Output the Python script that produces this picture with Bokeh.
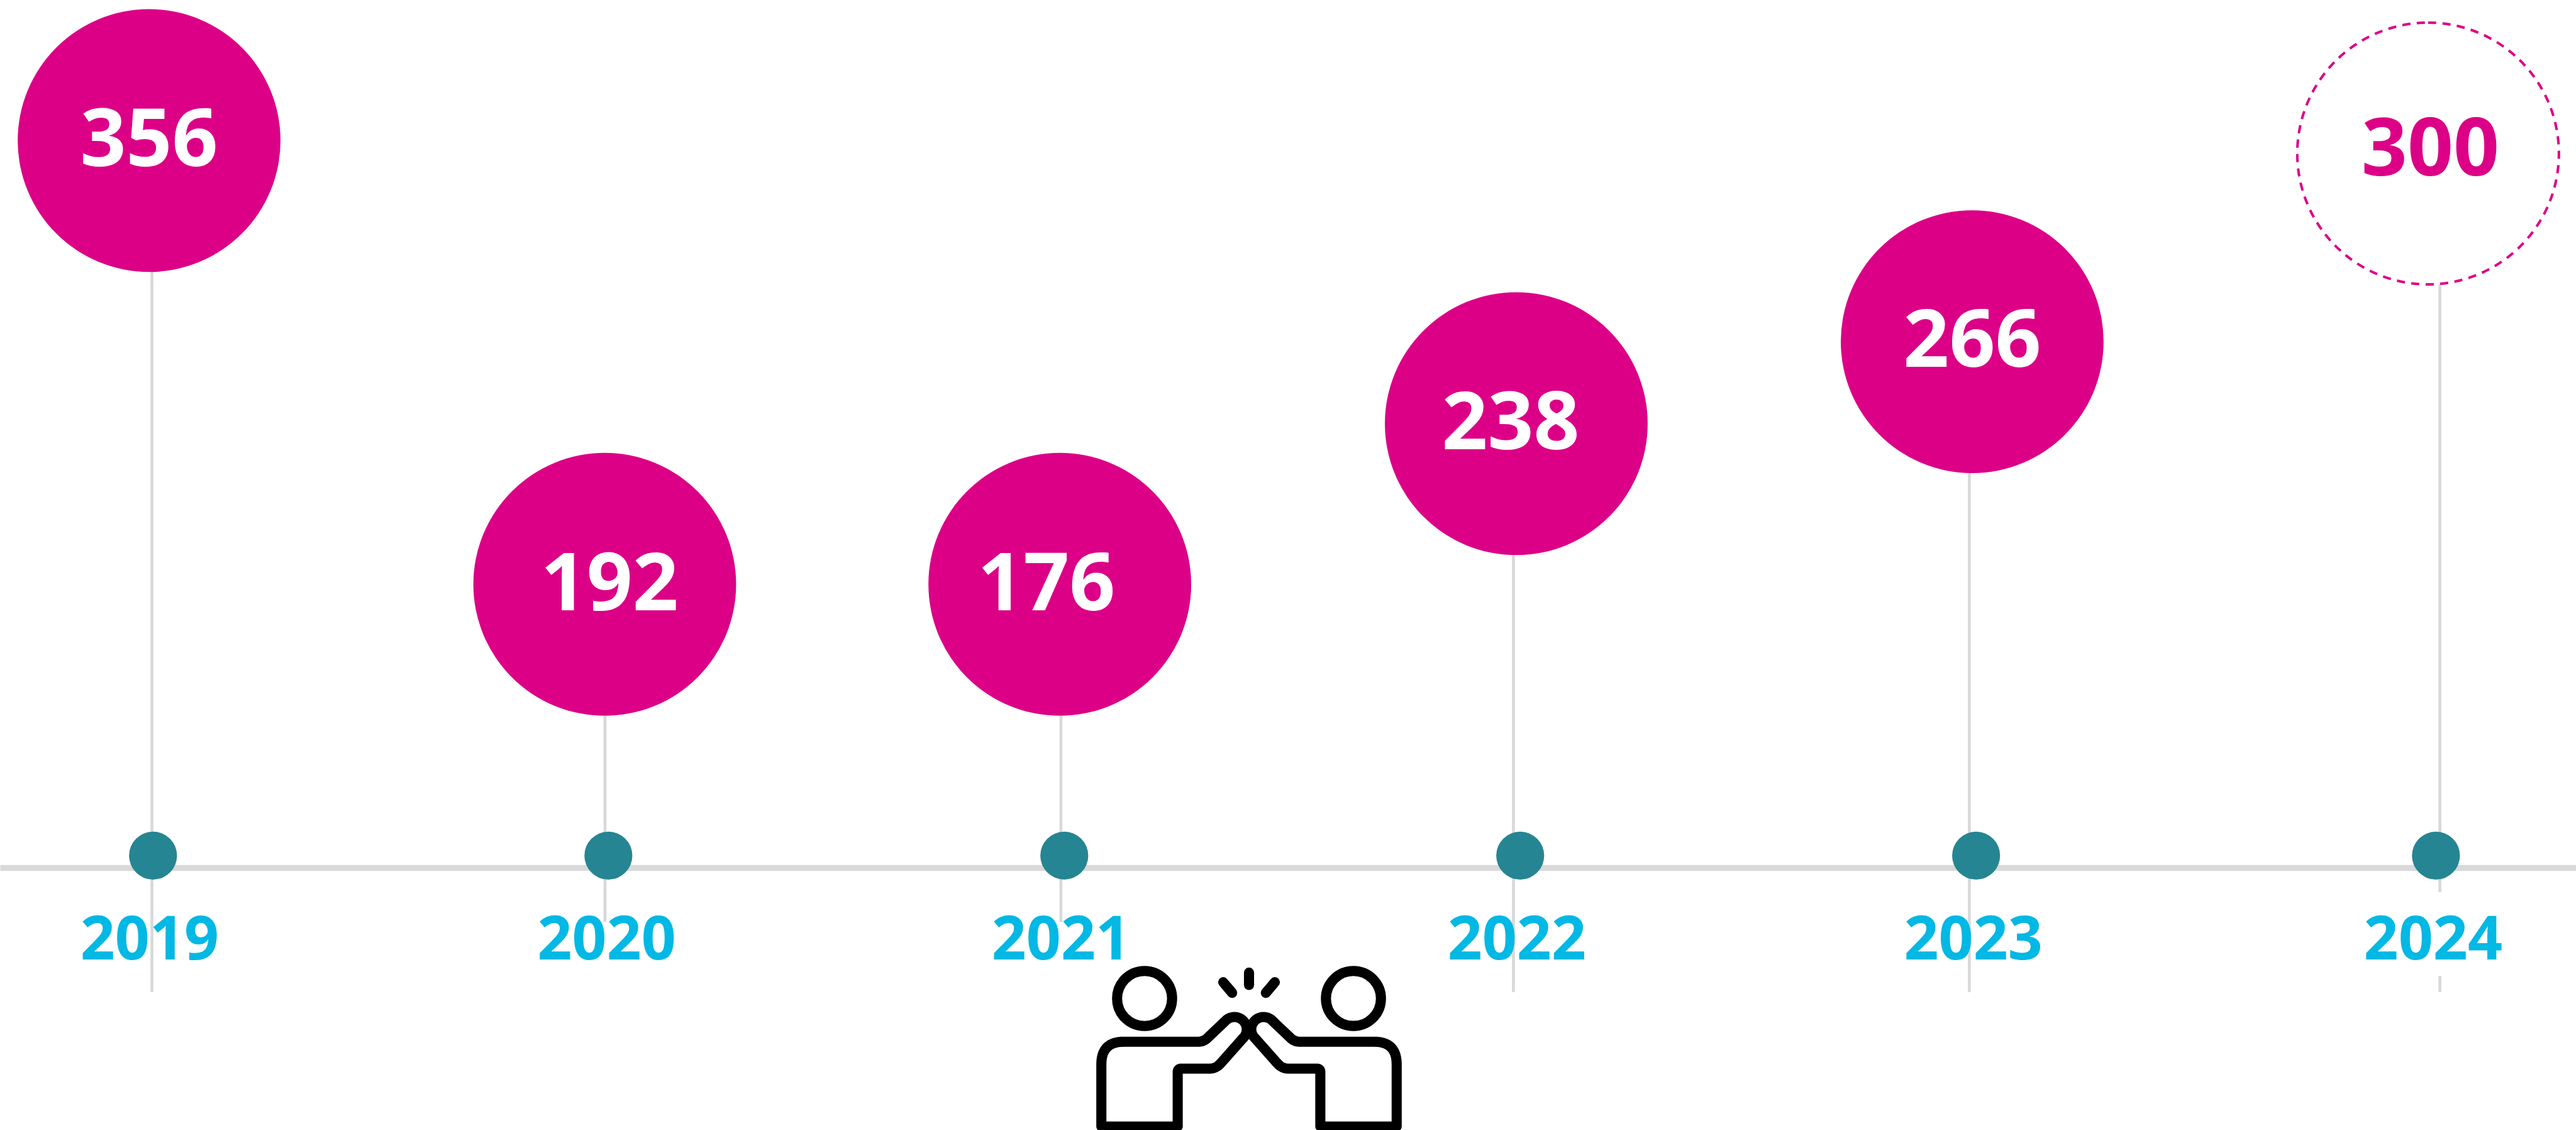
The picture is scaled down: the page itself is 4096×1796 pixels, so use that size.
import numpy as np
from bokeh.plotting import figure
from bokeh.models import Range1d
from bokeh.core.properties import value
from bokeh.embed import file_html
from bokeh.resources import INLINE

# ---- chart content ----
years = ["2019", "2020", "2021", "2022", "2023", "2024"]
counts = ["356", "192", "176", "238", "266", "300"]
# bubble height above the timeline, and where each year sits along it (reference px)
bubble_level = [1295, 505, 505, 791, 937, 1272]
bubble_x = [265, 1076.5, 1887, 2700, 3512, 4324]
stem_x = [270, 1077, 1889, 2695, 3507, 4345]
stem_end = [-221, -96, -96, -221, -221, -221]
dot_x = [272, 1083, 1895, 2707, 3519, 4338]
count_x = [265, 1085, 1863, 2690, 3512, 4328]
count_drop = [41, 42, 42, 41, 40, 34]
year_x = [266, 1080, 1889, 2701, 3514, 4333]
is_forecast = [False, False, False, False, False, True]

W, H = 4096, 1796
SCALE = W / 4588
MAGENTA = "#DC0087"
TEAL = "#268592"
CYAN = "#02B8E4"
GRAY = "#D9D9D9"
BASE = 1544.7      # reference y of the timeline

p = figure(width=W, height=H, output_backend="svg", toolbar_location=None,
           x_range=Range1d(0, W / SCALE),
           y_range=Range1d(BASE - H / SCALE, BASE),
           min_border=0, outline_line_color=None, background_fill_color="white",
           border_fill_color="white")
p.xaxis.visible = False
p.yaxis.visible = False
p.grid.visible = False

px = lambda n: f"{n * SCALE:.1f}px"
lw = lambda n: n * SCALE

# stems
p.segment(x0=stem_x, x1=stem_x, y0=[l for l in bubble_level], y1=stem_end,
          line_color=GRAY, line_width=lw(5.3))
# timeline
p.segment(x0=[-20], x1=[4620], y0=[0], y1=[0], line_color=GRAY, line_width=lw(10.7))

# year-label gap on the forecast stem
fx = [x for x, f in zip(stem_x, is_forecast) if f]
p.segment(x0=fx, x1=fx, y0=[-43], y1=[-192], line_color="white", line_width=lw(7))

# dots
p.circle(x=dot_x, y=[22] * len(dot_x), radius=42.7, fill_color=TEAL, line_color=None)

# bubbles
solid = [i for i, f in enumerate(is_forecast) if not f]
fore = [i for i, f in enumerate(is_forecast) if f]
p.circle(x=[bubble_x[i] for i in solid], y=[bubble_level[i] for i in solid], radius=234,
         fill_color=MAGENTA, line_color=None)
p.circle(x=[bubble_x[i] for i in fore], y=[bubble_level[i] for i in fore], radius=234,
         fill_color="white", line_color=None)
p.arc(x=[bubble_x[i] for i in fore], y=[bubble_level[i] for i in fore], radius=233,
      start_angle=np.pi / 2, end_angle=np.pi / 2 + 0.001, direction="clock",
      line_color=MAGENTA, line_width=lw(4.5), line_dash="13 10")

# counts
p.text(x=count_x, y=[l - d for l, d in zip(bubble_level, count_drop)], text=counts,
       text_color=[MAGENTA if f else "white" for f in is_forecast],
       text_font=value("Open Sans"), text_font_style="bold", text_font_size=px(143),
       text_align="center", text_baseline="alphabetic", y_offset=-41.8)
# years
p.text(x=year_x, y=[BASE - 1704] * 6, text=years, text_color=CYAN,
       text_font=value("Open Sans"), text_font_style="bold", text_font_size=px(108),
       text_align="center", text_baseline="alphabetic", y_offset=-31.5)


# ---- high-five icon (decoration, traced in reference px) ----
def rounded(pts):
    xs, ys = [], []
    for i, (x, y, r) in enumerate(pts):
        if r == 0 or i == 0 or i == len(pts) - 1:
            xs.append(x); ys.append(y)
            continue
        a = np.array(pts[i - 1][:2], float)
        b = np.array([x, y], float)
        c = np.array(pts[i + 1][:2], float)
        s = b + (a - b) / np.linalg.norm(a - b) * r
        e = b + (c - b) / np.linalg.norm(c - b) * r
        for t in np.linspace(0, 1, 14):
            q = (1 - t) ** 2 * s + 2 * t * (1 - t) * b + t ** 2 * e
            xs.append(q[0]); ys.append(q[1])
    return xs, ys


AX = 2224
ICON = 18 * SCALE
# body outline
lx1, ly1 = rounded([(2097, 2005, 0), (1961, 2005, 0), (1961, 1854, 40), (2143, 1854, 9), (2182, 1817, 0)])
ang = np.linspace(np.arctan2(-0.69, -0.72), np.arctan2(0.68, 0.72), 24)
hx = list(2198 + 22 * np.cos(ang)); hy = list(1832 + 22 * np.sin(ang))
lx2, ly2 = rounded([(2214, 1847, 0), (2165, 1902, 12), (2097, 1902, 6), (2097, 2005, 0)])
bx = lx1 + hx + lx2
by = ly1 + hy + ly2
for sign in (1, -1):
    xs = [x if sign == 1 else 2 * AX - x for x in bx]
    p.line(xs, [BASE - y for y in by], line_color="black", line_width=ICON,
           line_join="round", line_cap="round")
# heads
p.circle(x=[2038, 2410], y=[BASE - 1777] * 2, radius=49, fill_color=None,
         line_color="black", line_width=ICON)
# sparks
p.segment(x0=[AX, 2178, 2 * AX - 2178], x1=[AX, 2194, 2 * AX - 2194],
          y0=[BASE - 1731, BASE - 1748, BASE - 1748], y1=[BASE - 1753, BASE - 1767, BASE - 1767],
          line_color="black", line_width=ICON, line_cap="round")

open("out.html", "w").write(file_html(p, INLINE))
